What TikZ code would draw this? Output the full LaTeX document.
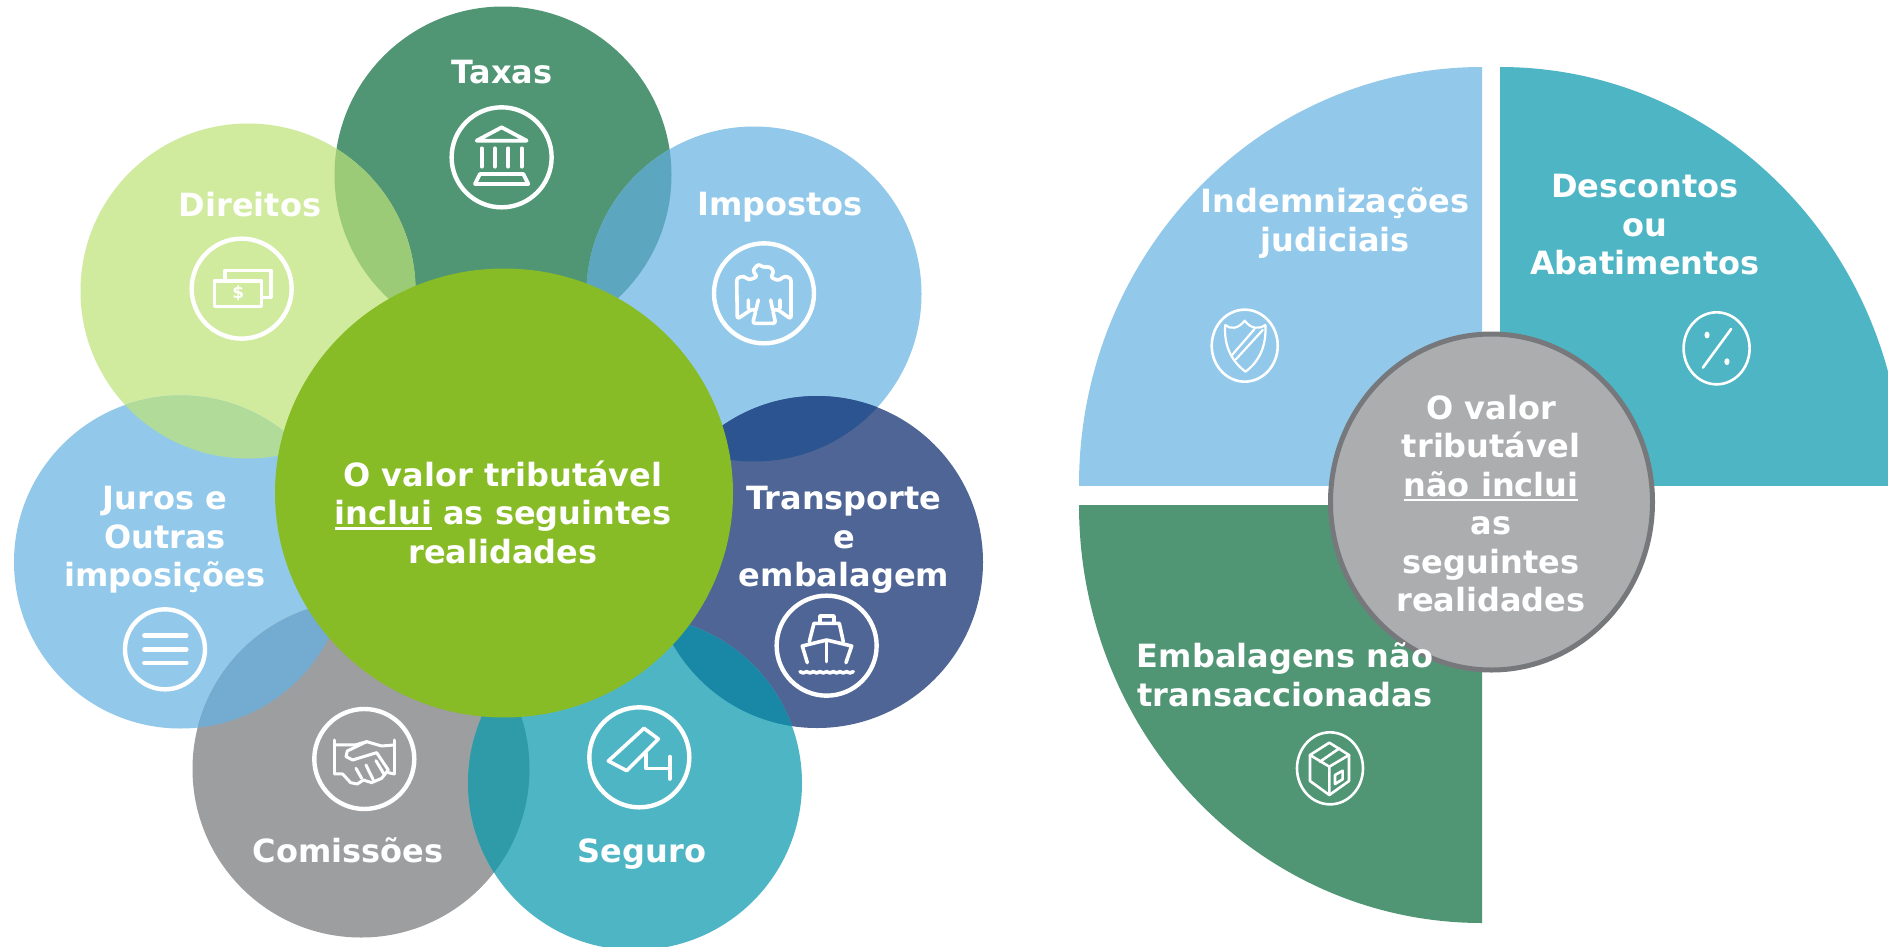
\documentclass[tikz,border=0pt]{standalone}
\usepackage{fontspec}
\setmainfont{DejaVu Sans}
\definecolor{cTaxas}{HTML}{509675}
\definecolor{cDir}{HTML}{D0EB9E}
\definecolor{cBlue}{HTML}{92C9EB}
\definecolor{cTrans}{HTML}{4E6596}
\definecolor{cCom}{HTML}{9D9EA0}
\definecolor{cSeg}{HTML}{4EB5C4}
\definecolor{cMain}{HTML}{87BC26}
\definecolor{cGrey}{HTML}{ACADAF}
\definecolor{cGreyLine}{HTML}{77787B}
\definecolor{oDT}{HTML}{9BCB76}
\definecolor{oTI}{HTML}{5DA6C0}
\definecolor{oIT}{HTML}{2B5491}
\definecolor{oJD}{HTML}{B0DB99}
\definecolor{oJC}{HTML}{74ACD1}
\definecolor{oTS}{HTML}{1888A6}
\definecolor{oCS}{HTML}{2F9AA8}
\newcommand\ulx[1]{\setbox0\hbox{#1}\rlap{\raisebox{-5pt}{\rule{\wd0}{2.6pt}}}\box0\relax}
\newcommand\ovl[7]{\begin{scope}\clip (#1,#2) circle[radius=#3pt];\fill[#7] (#4,#5) circle[radius=#6pt];\end{scope}}
\tikzset{
  lbl/.style={text=white,font=\fontsize{32}{38.5}\selectfont\bfseries,align=center,inner sep=0pt},
  icon/.style={draw=white,line width=4.4pt,line cap=round,line join=round},
  iconthin/.style={draw=white,line width=2.6pt,line cap=round,line join=round}
}
\begin{document}
\begin{tikzpicture}[x=1pt,y=-1pt]
\path[use as bounding box,clip] (0,0) rectangle (1888,946);
\fill[white] (0,0) rectangle (1888,946);
% petals
\fill[cTaxas] (503,175) circle[radius=168.5pt];
\fill[cDir] (248,291) circle[radius=167.5pt];
\fill[cBlue] (754,294) circle[radius=167.5pt];
\fill[cBlue] (180.5,562) circle[radius=166.5pt];
\fill[cTrans] (817,562) circle[radius=166pt];
\fill[cCom] (361,769) circle[radius=168.5pt];
\fill[cSeg] (635,783) circle[radius=167pt];
\ovl{503}{175}{168.5}{248}{291}{167.5}{oDT}
\ovl{503}{175}{168.5}{754}{294}{167.5}{oTI}
\ovl{754}{294}{167.5}{817}{562}{166}{oIT}
\ovl{180.5}{562}{166.5}{248}{291}{167.5}{oJD}
\ovl{180.5}{562}{166.5}{361}{769}{168.5}{oJC}
\ovl{817}{562}{166}{635}{783}{167}{oTS}
\ovl{361}{769}{168.5}{635}{783}{167}{oCS}
\fill[cMain] (504,493) ellipse[x radius=229pt,y radius=224.5pt];
% labels left
\node[lbl] (taxas) at (502,72) {Taxas};
\node[lbl] (direitos) at (250,204.5) {Direitos};
\node[lbl] (impostos) at (780,207) {Impostos};
\node[lbl] (juros) at (165,540) {Juros e\\Outras\\imposições};
\node[lbl] (transp) at (844,540) {Transporte\\e\\embalagem};
\node[lbl] (comiss) at (348,850) {Comissões};
\node[lbl] (seguro) at (642,854) {Seguro};
\node[lbl] (main) at (503,512) {O valor tributável\\\ulx{inclui} as seguintes\\realidades};
% icon: Taxas
\begin{scope}[shift={(170,90)},x=0.3333pt,y=-0.3333pt]
\draw[icon] (995,202) circle[radius=50pt];
\draw[icon,line width=3.8pt] (920,152) -- (995,112) -- (1070,152) -- cycle;
\foreach \c in {935,975,1015,1055} \draw[icon,line width=3.8pt] (\c,175) -- (\c,230);
\draw[icon,line width=3.8pt] (915,282) -- (930,252) -- (1060,252) -- (1075,282) -- cycle;
% icon: Direitos
\draw[icon] (215,596) circle[radius=50pt];
\draw[icon,line width=3.6pt] (165,565) -- (165,542) -- (303,542) -- (303,622) -- (275,622);
\draw[icon,line width=3.6pt] (133,573) rectangle (275,650);
\node[text=white,font=\fontsize{17}{17}\selectfont\bfseries,inner sep=0pt] (dollar) at (205,610) {\$};
\end{scope}
% icon: Impostos
\begin{scope}[shift={(680,220)},x=0.3333pt,y=-0.3333pt]
\draw[icon] (252,220) circle[radius=50pt];
\draw[icon,line width=3.6pt,rounded corners=2.5pt] (172,297) -- (170,175) -- (190,168) -- (207,180) -- (232,170) -- (218,152) -- (235,132) -- (250,142) -- (270,140) -- (282,155) -- (272,172) -- (295,182) -- (315,168) -- (333,175) -- (333,297) -- (292,268) -- (278,270) -- (287,310) -- (218,310) -- (228,270) -- (215,268) -- cycle;
\draw[icon,line width=3.6pt] (205,240) -- (205,265) (300,240) -- (300,265) (235,240) -- (228,270) (272,240) -- (278,270);
\end{scope}
% icons: Juros, Comissoes
\begin{scope}[shift={(110,590)},x=0.3333pt,y=-0.3333pt]
\draw[icon] (165,178) circle[radius=40pt];
\foreach \c in {137,178,219} \draw[icon] (103,\c) -- (229,\c);
\draw[icon] (763,507) circle[radius=50pt];
\draw[icon,line width=3pt] (675,450) -- (675,552) (853,450) -- (853,552);
\draw[icon,line width=3pt] (675,465) -- (735,465) -- (770,455) -- (815,468) -- (853,465);
\draw[icon,line width=3pt] (770,455) -- (712,483) -- (708,500) -- (728,510) -- (800,488) -- (835,540) -- (815,565) -- (785,578) -- (760,570) -- (742,582) -- (722,578) -- (698,552) -- (675,552);
\draw[icon,line width=3pt] (835,548) -- (853,552) (738,535) -- (755,565) (768,525) -- (790,570) (798,512) -- (822,552);
\end{scope}
% icons: Transporte, Seguro
\begin{scope}[shift={(570,580)},x=0.3333pt,y=-0.3333pt]
\draw[icon] (770,197) circle[radius=50pt];
\draw[icon,line width=3.6pt] (750,130) -- (750,108) -- (792,108) -- (792,130);
\draw[icon,line width=3.6pt] (718,185) -- (732,130) -- (808,130) -- (820,185);
\draw[icon,line width=3.6pt] (712,248) -- (697,198) -- (770,180) -- (845,198) -- (828,248);
\draw[icon,line width=3.6pt] (770,185) -- (770,245);
\draw[icon,line width=3.6pt] (690,275) \foreach \c in {710,730,750,770,790,810,830,850} {to[bend right=40] (\c,275)};
\draw[icon] (208,532) circle[radius=50pt];
\draw[icon,line width=3.6pt] (115,543) -- (222,445) -- (265,477) -- (170,572) -- cycle;
\draw[icon,line width=3.6pt] (228,520) -- (228,565) -- (300,565) (300,530) -- (300,597);
\end{scope}
% right pie
\begin{scope}\clip (1079,67) rectangle (1482,485);\fill[cBlue] (1482,485) ellipse[x radius=403pt,y radius=418pt];\end{scope}
\begin{scope}\clip (1500,67) rectangle (1888,485);\fill[cSeg] (1500,485) ellipse[x radius=403pt,y radius=418pt];\end{scope}
\begin{scope}\clip (1079,505) rectangle (1482,923);\fill[cTaxas] (1482,505) ellipse[x radius=403pt,y radius=418pt];\end{scope}
\draw[cGreyLine,line width=5pt,fill=cGrey] (1491.5,502) ellipse[x radius=161pt,y radius=168pt];
\node[lbl] (indem) at (1335,223) {Indemnizações\\judiciais};
\node[lbl] (desc) at (1645,225) {Descontos\\ou\\Abatimentos};
\node[lbl] (emb) at (1285,675) {Embalagens não\\transaccionadas};
\node[lbl] (naoinc) at (1491,503.5) {O valor\\tributável\\\ulx{não inclui}\\as\\seguintes\\realidades};
% thin icons
\begin{scope}[shift={(1190,290)},x=0.3827pt,y=-0.3333pt]
\draw[iconthin] (143,167) ellipse[x radius=33pt,y radius=36pt];
\draw[iconthin,line width=2.2pt] (92,105) .. controls (105,118) and (125,118) .. (143,92) .. controls (160,118) and (180,118) .. (197,105) .. controls (200,170) and (180,215) .. (145,245) .. controls (110,215) and (88,170) .. (92,105) -- cycle;
\draw[iconthin,line width=2.2pt] (110,195) -- (168,118) (120,208) -- (190,120);
\draw[iconthin] (1376,175) ellipse[x radius=33pt,y radius=36pt];
\draw[iconthin] (1340,233) -- (1414,117);
\fill[white] (1351,135) ellipse[x radius=2.6pt,y radius=3.4pt];
\fill[white] (1403,215) ellipse[x radius=2.6pt,y radius=3.4pt];
\end{scope}
\begin{scope}[shift={(1280,710)},x=0.3333pt,y=-0.3333pt]
\draw[iconthin] (150,175) ellipse[x radius=33pt,y radius=36pt];
\draw[iconthin] (90,135) -- (148,98) -- (207,135) -- (148,170) -- cycle;
\draw[iconthin] (90,135) -- (90,213) -- (148,255) -- (148,170);
\draw[iconthin] (207,135) -- (207,213) -- (148,255);
\draw[iconthin] (120,155) -- (178,115);
\draw[iconthin] (165,195) -- (188,182) -- (188,208) -- (165,222) -- cycle;
\end{scope}
\end{tikzpicture}
\end{document}
